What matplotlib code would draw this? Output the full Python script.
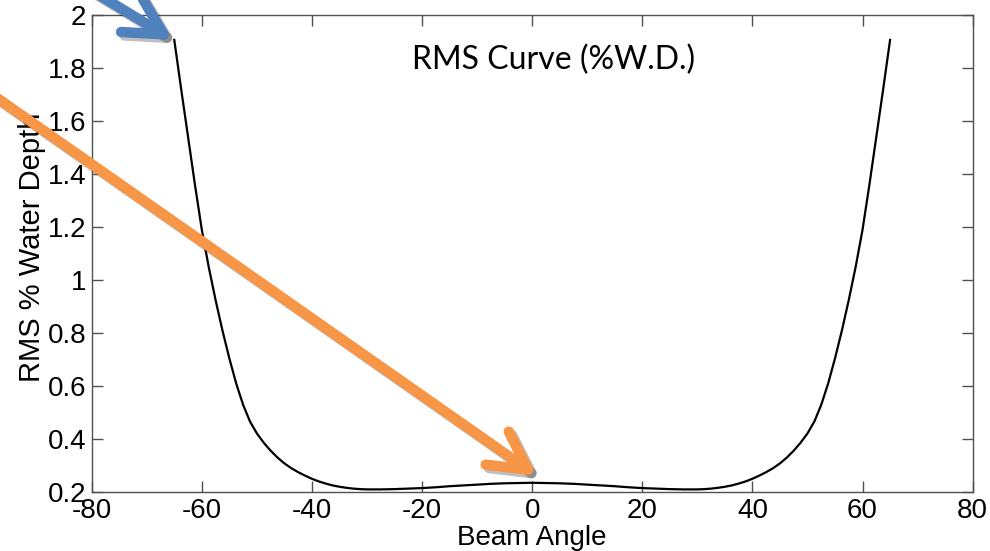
import matplotlib
matplotlib.use("Agg")
import matplotlib.pyplot as plt
import matplotlib.patheffects as pe
from matplotlib.patches import ArrowStyle

# RMS error (% of water depth) against beam angle
beam_angle = [-65, -63.75, -62.5, -61.25, -60, -58.75, -57.5, -56.25, -55, -53.75,
              -52.5, -51.25, -50, -48.75, -47.5, -46.25, -45, -43.75, -42.5, -41.25,
              -40, -38.75, -37.5, -36.25, -35, -33.75, -32.5, -31.25, -30,
              -27.5, -25, -22.5, -20, -17.5, -15, -12.5, -10, -7.5, -5, -2.5, 0,
              2.5, 5, 7.5, 10, 12.5, 15, 17.5, 20, 22.5, 25, 27.5,
              30, 31.25, 32.5, 33.75, 35, 36.25, 37.5, 38.75, 40,
              41.25, 42.5, 43.75, 45, 46.25, 47.5, 48.75, 50,
              51.25, 52.5, 53.75, 55, 56.25, 57.5, 58.75, 60,
              61.25, 62.5, 63.75, 65]
rms_wd = [1.905, 1.72, 1.54, 1.36, 1.19, 1.05, 0.925, 0.81, 0.705, 0.61,
          0.53, 0.467, 0.422, 0.387, 0.357, 0.331, 0.309, 0.291, 0.276, 0.263,
          0.251, 0.241, 0.233, 0.226, 0.221, 0.217, 0.214, 0.212, 0.211,
          0.211, 0.212, 0.214, 0.216, 0.219, 0.223, 0.226, 0.229, 0.232, 0.234, 0.235, 0.236,
          0.235, 0.234, 0.232, 0.229, 0.226, 0.223, 0.219, 0.216, 0.214, 0.212, 0.211,
          0.211, 0.212, 0.214, 0.217, 0.221, 0.226, 0.233, 0.241, 0.251,
          0.263, 0.276, 0.291, 0.309, 0.331, 0.357, 0.387, 0.422,
          0.467, 0.53, 0.61, 0.705, 0.81, 0.925, 1.05, 1.19,
          1.36, 1.54, 1.72, 1.905]

x_ticks = [-80, -60, -40, -20, 0, 20, 40, 60, 80]
y_ticks = [0.2, 0.4, 0.6, 0.8, 1.0, 1.2, 1.4, 1.6, 1.8, 2.0]
y_ticklabels = ["0.2", "0.4", "0.6", "0.8", "1", "1.2", "1.4", "1.6", "1.8", "2"]

fig = plt.figure(figsize=(9.9, 5.51), dpi=100)
ax = fig.add_axes([0.0926, 0.1065, 0.8899, 0.8668])

ax.plot(beam_angle, rms_wd, color="black", lw=1.6)

ax.set_xlim(-80, 80)
ax.set_ylim(0.2, 2.0)
ax.set_xticks(x_ticks)
ax.set_xticklabels([str(t) for t in x_ticks])
ax.set_yticks(y_ticks)
ax.set_yticklabels(y_ticklabels)

axis_col = "#505050"
for s in ax.spines.values():
    s.set_color(axis_col)
    s.set_linewidth(1.0)
ax.tick_params(direction="in", length=8, width=1.0, color=axis_col,
               top=True, right=True, labelsize=20, labelcolor="black")
ax.tick_params(axis="x", pad=4)
ax.tick_params(axis="y", pad=4)
for lab in ax.get_xticklabels() + ax.get_yticklabels():
    lab.set_family("Liberation Sans")

ax.set_xlabel("Beam Angle", fontsize=20, family="Liberation Sans")
ax.set_ylabel("RMS % Water Depth", fontsize=21, family="Liberation Sans")
ax.xaxis.set_label_coords(0.5, -0.069)
ax.yaxis.set_label_coords(-0.052, 0.5125)

fig.text(0.559, 0.891, "RMS Curve (%W.D.)", fontsize=23, family="Lato",
         ha="center", va="center")

# callout arrows pointing at the curve end and at nadir
shadow = [pe.SimpleLineShadow(offset=(2.5, -2.5), shadow_color="black", alpha=0.25),
          pe.Normal()]
head = ArrowStyle("->", head_length=2.7, head_width=1.45)
ax.annotate("", xy=(173 / 990, 1 - 40 / 551), xycoords="figure fraction",
            xytext=(94 / 990, 1 + 8 / 551), textcoords="figure fraction",
            annotation_clip=False,
            arrowprops=dict(arrowstyle=head, color="#4F81BD", lw=7.5,
                            mutation_scale=10, shrinkA=0, shrinkB=0,
                            capstyle="round", joinstyle="round",
                            path_effects=shadow))
ax.annotate("", xy=(537 / 990, 1 - 476 / 551), xycoords="figure fraction",
            xytext=(-10 / 990, 1 - 93 / 551), textcoords="figure fraction",
            annotation_clip=False,
            arrowprops=dict(arrowstyle=head, color="#F79646", lw=7.5,
                            mutation_scale=10, shrinkA=0, shrinkB=0,
                            capstyle="round", joinstyle="round",
                            path_effects=shadow))

fig.savefig("out.png", dpi=100)
